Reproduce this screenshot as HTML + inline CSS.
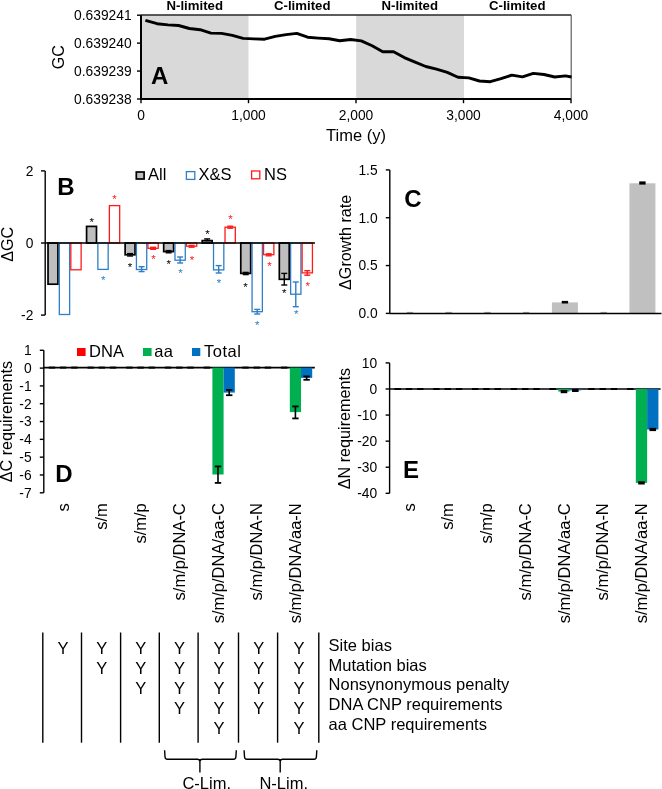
<!DOCTYPE html>
<html><head><meta charset="utf-8"><style>
html,body{margin:0;padding:0;background:#fff;}
svg{display:block;font-family:"Liberation Sans", sans-serif;will-change:transform;}
</style></head><body>
<svg width="662" height="789" viewBox="0 0 662 789">
<rect width="662" height="789" fill="#fff"/>
<rect x="141.0" y="15.2" width="107.5" height="83.8" fill="#D9D9D9" stroke="none" stroke-width="0"/>
<rect x="356.2" y="15.2" width="107.80000000000001" height="83.8" fill="#D9D9D9" stroke="none" stroke-width="0"/>
<line x1="141.0" y1="15.0" x2="571.0" y2="15.0" stroke="#262626" stroke-width="1.4"/>
<line x1="571.2" y1="14.8" x2="571.2" y2="99.0" stroke="#505050" stroke-width="1.1"/>
<polyline fill="none" stroke="#000" stroke-width="2.9" stroke-linejoin="round" points="145.4,20.4 157.1,23.7 167.9,24.9 178.6,25.5 189.4,28.5 200.1,29.7 210.9,33.1 221.6,33.4 232.4,35.4 243.1,38.4 253.9,38.9 264.6,39.2 275.3,36.4 286.1,34.6 296.8,33.4 307.6,37.2 318.3,38.1 329.1,38.8 339.8,40.8 350.6,39.5 361.3,40.9 372.1,45.8 382.8,51.7 393.6,51.7 404.3,57.6 415.1,62.2 425.8,66.5 436.5,69.2 447.3,72.4 458.0,77.2 468.8,77.9 479.5,81.0 490.3,81.7 501.0,78.7 511.8,75.1 522.5,76.9 533.3,73.4 544.0,74.5 554.8,77.0 565.5,75.9 571.5,77.0"/>
<line x1="141.0" y1="15.2" x2="141.0" y2="99.7" stroke="#000" stroke-width="2.0"/>
<line x1="140.0" y1="99.0" x2="571.0" y2="99.0" stroke="#000" stroke-width="2.0"/>
<line x1="137.0" y1="15.2" x2="141.0" y2="15.2" stroke="#000" stroke-width="1.4"/>
<text x="131.6" y="20.0" font-size="13.8" text-anchor="end" font-weight="normal" fill="#000">0.639241</text>
<line x1="137.0" y1="43.13333333333333" x2="141.0" y2="43.13333333333333" stroke="#000" stroke-width="1.4"/>
<text x="131.6" y="47.93333333333333" font-size="13.8" text-anchor="end" font-weight="normal" fill="#000">0.639240</text>
<line x1="137.0" y1="71.06666666666666" x2="141.0" y2="71.06666666666666" stroke="#000" stroke-width="1.4"/>
<text x="131.6" y="75.86666666666666" font-size="13.8" text-anchor="end" font-weight="normal" fill="#000">0.639239</text>
<line x1="137.0" y1="99.0" x2="141.0" y2="99.0" stroke="#000" stroke-width="1.4"/>
<text x="131.6" y="103.8" font-size="13.8" text-anchor="end" font-weight="normal" fill="#000">0.639238</text>
<line x1="141.0" y1="99.0" x2="141.0" y2="103.2" stroke="#000" stroke-width="1.4"/>
<text x="141.0" y="120.3" font-size="13.8" text-anchor="middle" font-weight="normal" fill="#000">0</text>
<line x1="248.5" y1="99.0" x2="248.5" y2="103.2" stroke="#000" stroke-width="1.4"/>
<text x="248.5" y="120.3" font-size="13.8" text-anchor="middle" font-weight="normal" fill="#000">1,000</text>
<line x1="356.0" y1="99.0" x2="356.0" y2="103.2" stroke="#000" stroke-width="1.4"/>
<text x="356.0" y="120.3" font-size="13.8" text-anchor="middle" font-weight="normal" fill="#000">2,000</text>
<line x1="463.5" y1="99.0" x2="463.5" y2="103.2" stroke="#000" stroke-width="1.4"/>
<text x="463.5" y="120.3" font-size="13.8" text-anchor="middle" font-weight="normal" fill="#000">3,000</text>
<line x1="571.0" y1="99.0" x2="571.0" y2="103.2" stroke="#000" stroke-width="1.4"/>
<text x="571.0" y="120.3" font-size="13.8" text-anchor="middle" font-weight="normal" fill="#000">4,000</text>
<text x="356.0" y="141.3" font-size="16.5" text-anchor="middle" font-weight="normal" fill="#000">Time (y)</text>
<text x="64.0" y="57.1" font-size="16.2" text-anchor="middle" font-weight="normal" fill="#000" transform="rotate(-90 64.0 57.1)">GC</text>
<text x="151.0" y="84.0" font-size="24" text-anchor="start" font-weight="bold" fill="#000">A</text>
<text x="194.75" y="10.0" font-size="13.2" text-anchor="middle" font-weight="bold" fill="#000">N-limited</text>
<text x="302.25" y="10.0" font-size="13.2" text-anchor="middle" font-weight="bold" fill="#000">C-limited</text>
<text x="409.75" y="10.0" font-size="13.2" text-anchor="middle" font-weight="bold" fill="#000">N-limited</text>
<text x="517.25" y="10.0" font-size="13.2" text-anchor="middle" font-weight="bold" fill="#000">C-limited</text>
<line x1="45.2" y1="170.9" x2="45.2" y2="315.1" stroke="#000" stroke-width="1.4"/>
<line x1="41.0" y1="170.9" x2="45.2" y2="170.9" stroke="#000" stroke-width="1.4"/>
<text x="33.4" y="176.20000000000002" font-size="13.8" text-anchor="end" font-weight="normal" fill="#000">2</text>
<line x1="41.0" y1="243.0" x2="45.2" y2="243.0" stroke="#000" stroke-width="1.4"/>
<text x="33.4" y="248.3" font-size="13.8" text-anchor="end" font-weight="normal" fill="#000">0</text>
<line x1="41.0" y1="315.1" x2="45.2" y2="315.1" stroke="#000" stroke-width="1.4"/>
<text x="33.4" y="320.40000000000003" font-size="13.8" text-anchor="end" font-weight="normal" fill="#000">-2</text>
<text x="13.4" y="244.3" font-size="16.2" text-anchor="middle" font-weight="normal" fill="#000" transform="rotate(-90 13.4 244.3)">ΔGC</text>
<rect x="48.02499999999999" y="243.0" width="9.9" height="41.19999999999999" fill="#BEBEBE" stroke="#000" stroke-width="1.7"/>
<rect x="59.324999999999996" y="243.0" width="10.3" height="71.5" fill="#fff" stroke="#2F7EC6" stroke-width="1.3"/>
<rect x="70.82499999999999" y="243.0" width="10.3" height="26.80000000000001" fill="#fff" stroke="#FF1A1A" stroke-width="1.3"/>
<rect x="86.575" y="226.4" width="9.9" height="16.599999999999994" fill="#BEBEBE" stroke="#000" stroke-width="1.7"/>
<rect x="97.875" y="243.0" width="10.3" height="26.399999999999977" fill="#fff" stroke="#2F7EC6" stroke-width="1.3"/>
<rect x="109.375" y="205.6" width="10.3" height="37.400000000000006" fill="#fff" stroke="#FF1A1A" stroke-width="1.3"/>
<rect x="125.12499999999999" y="243.0" width="9.9" height="11.800000000000011" fill="#BEBEBE" stroke="#000" stroke-width="1.7"/>
<rect x="136.42499999999998" y="243.0" width="10.3" height="26.5" fill="#fff" stroke="#2F7EC6" stroke-width="1.3"/>
<rect x="147.92499999999998" y="243.0" width="10.3" height="5.300000000000011" fill="#fff" stroke="#FF1A1A" stroke-width="1.3"/>
<rect x="163.675" y="243.0" width="9.9" height="8.599999999999994" fill="#BEBEBE" stroke="#000" stroke-width="1.7"/>
<rect x="174.975" y="243.0" width="10.3" height="17.19999999999999" fill="#fff" stroke="#2F7EC6" stroke-width="1.3"/>
<rect x="186.475" y="243.0" width="10.3" height="3.1999999999999886" fill="#fff" stroke="#FF1A1A" stroke-width="1.3"/>
<rect x="202.22500000000002" y="240.6" width="9.9" height="2.4000000000000057" fill="#BEBEBE" stroke="#000" stroke-width="1.7"/>
<rect x="213.525" y="243.0" width="10.3" height="26.899999999999977" fill="#fff" stroke="#2F7EC6" stroke-width="1.3"/>
<rect x="225.025" y="227.2" width="10.3" height="15.800000000000011" fill="#fff" stroke="#FF1A1A" stroke-width="1.3"/>
<rect x="240.77499999999998" y="243.0" width="9.9" height="30.399999999999977" fill="#BEBEBE" stroke="#000" stroke-width="1.7"/>
<rect x="252.07499999999996" y="243.0" width="10.3" height="68.69999999999999" fill="#fff" stroke="#2F7EC6" stroke-width="1.3"/>
<rect x="263.575" y="243.0" width="10.3" height="11.699999999999989" fill="#fff" stroke="#FF1A1A" stroke-width="1.3"/>
<rect x="279.325" y="243.0" width="9.9" height="36.30000000000001" fill="#BEBEBE" stroke="#000" stroke-width="1.7"/>
<rect x="290.625" y="243.0" width="10.3" height="51.19999999999999" fill="#fff" stroke="#2F7EC6" stroke-width="1.3"/>
<rect x="302.125" y="243.0" width="10.3" height="29.899999999999977" fill="#fff" stroke="#FF1A1A" stroke-width="1.3"/>
<line x1="130.075" y1="253.6" x2="130.075" y2="256.0" stroke="#000" stroke-width="1.4"/>
<line x1="127.07499999999999" y1="253.6" x2="133.075" y2="253.6" stroke="#000" stroke-width="1.4"/>
<line x1="127.07499999999999" y1="256.0" x2="133.075" y2="256.0" stroke="#000" stroke-width="1.4"/>
<line x1="141.575" y1="266.7" x2="141.575" y2="271.6" stroke="#2F7EC6" stroke-width="1.4"/>
<line x1="138.575" y1="266.7" x2="144.575" y2="266.7" stroke="#2F7EC6" stroke-width="1.4"/>
<line x1="138.575" y1="271.6" x2="144.575" y2="271.6" stroke="#2F7EC6" stroke-width="1.4"/>
<line x1="153.075" y1="247.3" x2="153.075" y2="249.3" stroke="#FF1A1A" stroke-width="1.4"/>
<line x1="150.075" y1="247.3" x2="156.075" y2="247.3" stroke="#FF1A1A" stroke-width="1.4"/>
<line x1="150.075" y1="249.3" x2="156.075" y2="249.3" stroke="#FF1A1A" stroke-width="1.4"/>
<line x1="168.625" y1="250.6" x2="168.625" y2="252.8" stroke="#000" stroke-width="1.4"/>
<line x1="165.625" y1="250.6" x2="171.625" y2="250.6" stroke="#000" stroke-width="1.4"/>
<line x1="165.625" y1="252.8" x2="171.625" y2="252.8" stroke="#000" stroke-width="1.4"/>
<line x1="180.125" y1="257.0" x2="180.125" y2="263.0" stroke="#2F7EC6" stroke-width="1.4"/>
<line x1="177.125" y1="257.0" x2="183.125" y2="257.0" stroke="#2F7EC6" stroke-width="1.4"/>
<line x1="177.125" y1="263.0" x2="183.125" y2="263.0" stroke="#2F7EC6" stroke-width="1.4"/>
<line x1="191.625" y1="245.4" x2="191.625" y2="247.2" stroke="#FF1A1A" stroke-width="1.4"/>
<line x1="188.625" y1="245.4" x2="194.625" y2="245.4" stroke="#FF1A1A" stroke-width="1.4"/>
<line x1="188.625" y1="247.2" x2="194.625" y2="247.2" stroke="#FF1A1A" stroke-width="1.4"/>
<line x1="207.175" y1="238.9" x2="207.175" y2="240.6" stroke="#000" stroke-width="1.4"/>
<line x1="204.175" y1="238.9" x2="210.175" y2="238.9" stroke="#000" stroke-width="1.4"/>
<line x1="204.175" y1="240.6" x2="210.175" y2="240.6" stroke="#000" stroke-width="1.4"/>
<line x1="218.675" y1="265.6" x2="218.675" y2="273.0" stroke="#2F7EC6" stroke-width="1.4"/>
<line x1="215.675" y1="265.6" x2="221.675" y2="265.6" stroke="#2F7EC6" stroke-width="1.4"/>
<line x1="215.675" y1="273.0" x2="221.675" y2="273.0" stroke="#2F7EC6" stroke-width="1.4"/>
<line x1="230.175" y1="226.2" x2="230.175" y2="228.2" stroke="#FF1A1A" stroke-width="1.4"/>
<line x1="227.175" y1="226.2" x2="233.175" y2="226.2" stroke="#FF1A1A" stroke-width="1.4"/>
<line x1="227.175" y1="228.2" x2="233.175" y2="228.2" stroke="#FF1A1A" stroke-width="1.4"/>
<line x1="245.72499999999997" y1="272.4" x2="245.72499999999997" y2="274.6" stroke="#000" stroke-width="1.4"/>
<line x1="242.72499999999997" y1="272.4" x2="248.72499999999997" y2="272.4" stroke="#000" stroke-width="1.4"/>
<line x1="242.72499999999997" y1="274.6" x2="248.72499999999997" y2="274.6" stroke="#000" stroke-width="1.4"/>
<line x1="257.22499999999997" y1="309.4" x2="257.22499999999997" y2="314.0" stroke="#2F7EC6" stroke-width="1.4"/>
<line x1="254.22499999999997" y1="309.4" x2="260.22499999999997" y2="309.4" stroke="#2F7EC6" stroke-width="1.4"/>
<line x1="254.22499999999997" y1="314.0" x2="260.22499999999997" y2="314.0" stroke="#2F7EC6" stroke-width="1.4"/>
<line x1="268.72499999999997" y1="253.8" x2="268.72499999999997" y2="255.8" stroke="#FF1A1A" stroke-width="1.4"/>
<line x1="265.72499999999997" y1="253.8" x2="271.72499999999997" y2="253.8" stroke="#FF1A1A" stroke-width="1.4"/>
<line x1="265.72499999999997" y1="255.8" x2="271.72499999999997" y2="255.8" stroke="#FF1A1A" stroke-width="1.4"/>
<line x1="284.275" y1="273.4" x2="284.275" y2="285.0" stroke="#000" stroke-width="1.4"/>
<line x1="281.275" y1="273.4" x2="287.275" y2="273.4" stroke="#000" stroke-width="1.4"/>
<line x1="281.275" y1="285.0" x2="287.275" y2="285.0" stroke="#000" stroke-width="1.4"/>
<line x1="295.775" y1="282.0" x2="295.775" y2="306.7" stroke="#2F7EC6" stroke-width="1.4"/>
<line x1="292.775" y1="282.0" x2="298.775" y2="282.0" stroke="#2F7EC6" stroke-width="1.4"/>
<line x1="292.775" y1="306.7" x2="298.775" y2="306.7" stroke="#2F7EC6" stroke-width="1.4"/>
<line x1="307.275" y1="270.7" x2="307.275" y2="275.2" stroke="#FF1A1A" stroke-width="1.4"/>
<line x1="304.275" y1="270.7" x2="310.275" y2="270.7" stroke="#FF1A1A" stroke-width="1.4"/>
<line x1="304.275" y1="275.2" x2="310.275" y2="275.2" stroke="#FF1A1A" stroke-width="1.4"/>
<line x1="45.2" y1="243.0" x2="315.0" y2="243.0" stroke="#000" stroke-width="1.5"/>
<text x="91.7" y="226.29999999999998" font-size="11.5" text-anchor="middle" font-weight="normal" fill="#000">*</text>
<text x="103.2" y="284.09999999999997" font-size="11.5" text-anchor="middle" font-weight="normal" fill="#2F7EC6">*</text>
<text x="114.4" y="203.1" font-size="11.5" text-anchor="middle" font-weight="normal" fill="#FF1A1A">*</text>
<text x="129.89999999999998" y="270.8" font-size="11.5" text-anchor="middle" font-weight="normal" fill="#000">*</text>
<text x="153.6" y="262.7" font-size="11.5" text-anchor="middle" font-weight="normal" fill="#FF1A1A">*</text>
<text x="168.7" y="268.0" font-size="11.5" text-anchor="middle" font-weight="normal" fill="#000">*</text>
<text x="180.5" y="277.3" font-size="11.5" text-anchor="middle" font-weight="normal" fill="#2F7EC6">*</text>
<text x="192.0" y="263.7" font-size="11.5" text-anchor="middle" font-weight="normal" fill="#FF1A1A">*</text>
<text x="207.5" y="238.29999999999998" font-size="11.5" text-anchor="middle" font-weight="normal" fill="#000">*</text>
<text x="218.89999999999998" y="286.8" font-size="11.5" text-anchor="middle" font-weight="normal" fill="#2F7EC6">*</text>
<text x="230.5" y="222.79999999999998" font-size="11.5" text-anchor="middle" font-weight="normal" fill="#FF1A1A">*</text>
<text x="245.5" y="290.7" font-size="11.5" text-anchor="middle" font-weight="normal" fill="#000">*</text>
<text x="257.3" y="328.8" font-size="11.5" text-anchor="middle" font-weight="normal" fill="#2F7EC6">*</text>
<text x="269.4" y="269.5" font-size="11.5" text-anchor="middle" font-weight="normal" fill="#FF1A1A">*</text>
<text x="284.2" y="296.9" font-size="11.5" text-anchor="middle" font-weight="normal" fill="#000">*</text>
<text x="296.3" y="318.09999999999997" font-size="11.5" text-anchor="middle" font-weight="normal" fill="#2F7EC6">*</text>
<text x="307.8" y="290.0" font-size="11.5" text-anchor="middle" font-weight="normal" fill="#FF1A1A">*</text>
<text x="57.2" y="194.8" font-size="24" text-anchor="start" font-weight="bold" fill="#000">B</text>
<rect x="136.3" y="172.0" width="7.8" height="7.0" fill="#BEBEBE" stroke="#000" stroke-width="1.7"/>
<text x="148.0" y="180.2" font-size="16.5" text-anchor="start" font-weight="normal" fill="#000">All</text>
<rect x="186.4" y="171.6" width="8.4" height="7.8" fill="#fff" stroke="#2F7EC6" stroke-width="1.3"/>
<text x="198.6" y="180.2" font-size="16.5" text-anchor="start" font-weight="normal" fill="#000">X&amp;S</text>
<rect x="251.6" y="171.0" width="8.2" height="7.8" fill="#fff" stroke="#FF1A1A" stroke-width="1.3"/>
<text x="264.0" y="180.2" font-size="16.5" text-anchor="start" font-weight="normal" fill="#000">NS</text>
<line x1="389.8" y1="169.9" x2="389.8" y2="313.4" stroke="#000" stroke-width="1.4"/>
<line x1="385.8" y1="169.9" x2="389.8" y2="169.9" stroke="#000" stroke-width="1.4"/>
<text x="377.6" y="174.70000000000002" font-size="13.8" text-anchor="end" font-weight="normal" fill="#000">1.5</text>
<line x1="385.8" y1="217.73000000000002" x2="389.8" y2="217.73000000000002" stroke="#000" stroke-width="1.4"/>
<text x="377.6" y="222.53000000000003" font-size="13.8" text-anchor="end" font-weight="normal" fill="#000">1.0</text>
<line x1="385.8" y1="265.56" x2="389.8" y2="265.56" stroke="#000" stroke-width="1.4"/>
<text x="377.6" y="270.36" font-size="13.8" text-anchor="end" font-weight="normal" fill="#000">0.5</text>
<line x1="385.8" y1="313.39" x2="389.8" y2="313.39" stroke="#000" stroke-width="1.4"/>
<text x="377.6" y="318.19" font-size="13.8" text-anchor="end" font-weight="normal" fill="#000">0.0</text>
<text x="351.3" y="242.3" font-size="16.2" text-anchor="middle" font-weight="normal" fill="#000" transform="rotate(-90 351.3 242.3)">ΔGrowth rate</text>
<rect x="551.925" y="302.4" width="26" height="11.0" fill="#C0C0C0" stroke="none" stroke-width="0"/>
<rect x="629.425" y="183.3" width="26" height="130.09999999999997" fill="#C0C0C0" stroke="none" stroke-width="0"/>
<rect x="406.725" y="311.9" width="6.4" height="1.0" fill="#999" stroke="none" stroke-width="0"/>
<rect x="445.475" y="311.9" width="6.4" height="1.0" fill="#999" stroke="none" stroke-width="0"/>
<rect x="484.225" y="311.9" width="6.4" height="1.0" fill="#999" stroke="none" stroke-width="0"/>
<rect x="522.9749999999999" y="311.9" width="6.4" height="1.0" fill="#999" stroke="none" stroke-width="0"/>
<rect x="561.7249999999999" y="300.9" width="6.4" height="2.6" fill="#000" stroke="none" stroke-width="0"/>
<rect x="600.4749999999999" y="311.9" width="6.4" height="1.0" fill="#999" stroke="none" stroke-width="0"/>
<rect x="639.2249999999999" y="181.4" width="6.4" height="3.2" fill="#000" stroke="none" stroke-width="0"/>
<line x1="389.8" y1="313.4" x2="661.5" y2="313.4" stroke="#000" stroke-width="1.5"/>
<text x="404.2" y="207.3" font-size="24" text-anchor="start" font-weight="bold" fill="#000">C</text>
<line x1="43.8" y1="350.3" x2="43.8" y2="492.8" stroke="#000" stroke-width="1.4"/>
<line x1="39.8" y1="350.3" x2="43.8" y2="350.3" stroke="#000" stroke-width="1.4"/>
<text x="31.6" y="355.1" font-size="13.8" text-anchor="end" font-weight="normal" fill="#000">1</text>
<line x1="39.8" y1="368.11" x2="43.8" y2="368.11" stroke="#000" stroke-width="1.4"/>
<text x="31.6" y="372.91" font-size="13.8" text-anchor="end" font-weight="normal" fill="#000">0</text>
<line x1="39.8" y1="385.92" x2="43.8" y2="385.92" stroke="#000" stroke-width="1.4"/>
<text x="31.6" y="390.72" font-size="13.8" text-anchor="end" font-weight="normal" fill="#000">-1</text>
<line x1="39.8" y1="403.73" x2="43.8" y2="403.73" stroke="#000" stroke-width="1.4"/>
<text x="31.6" y="408.53000000000003" font-size="13.8" text-anchor="end" font-weight="normal" fill="#000">-2</text>
<line x1="39.8" y1="421.54" x2="43.8" y2="421.54" stroke="#000" stroke-width="1.4"/>
<text x="31.6" y="426.34000000000003" font-size="13.8" text-anchor="end" font-weight="normal" fill="#000">-3</text>
<line x1="39.8" y1="439.35" x2="43.8" y2="439.35" stroke="#000" stroke-width="1.4"/>
<text x="31.6" y="444.15000000000003" font-size="13.8" text-anchor="end" font-weight="normal" fill="#000">-4</text>
<line x1="39.8" y1="457.15999999999997" x2="43.8" y2="457.15999999999997" stroke="#000" stroke-width="1.4"/>
<text x="31.6" y="461.96" font-size="13.8" text-anchor="end" font-weight="normal" fill="#000">-5</text>
<line x1="39.8" y1="474.97" x2="43.8" y2="474.97" stroke="#000" stroke-width="1.4"/>
<text x="31.6" y="479.77000000000004" font-size="13.8" text-anchor="end" font-weight="normal" fill="#000">-6</text>
<line x1="39.8" y1="492.78" x2="43.8" y2="492.78" stroke="#000" stroke-width="1.4"/>
<text x="31.6" y="497.58" font-size="13.8" text-anchor="end" font-weight="normal" fill="#000">-7</text>
<text x="12.1" y="421.6" font-size="16.2" text-anchor="middle" font-weight="normal" fill="#000" transform="rotate(-90 12.1 421.6)">ΔC requirements</text>
<line x1="43.8" y1="367.6" x2="314.8" y2="367.6" stroke="#000" stroke-width="1.6"/>
<rect x="48.754999999999995" y="366.6" width="6.4" height="2.0" fill="#000" stroke="none" stroke-width="0"/>
<rect x="59.955" y="366.6" width="6.4" height="2.0" fill="#000" stroke="none" stroke-width="0"/>
<rect x="71.155" y="366.6" width="6.4" height="2.0" fill="#000" stroke="none" stroke-width="0"/>
<rect x="87.46499999999999" y="366.6" width="6.4" height="2.0" fill="#000" stroke="none" stroke-width="0"/>
<rect x="98.66499999999999" y="366.6" width="6.4" height="2.0" fill="#000" stroke="none" stroke-width="0"/>
<rect x="109.865" y="366.6" width="6.4" height="2.0" fill="#000" stroke="none" stroke-width="0"/>
<rect x="126.175" y="366.6" width="6.4" height="2.0" fill="#000" stroke="none" stroke-width="0"/>
<rect x="137.375" y="366.6" width="6.4" height="2.0" fill="#000" stroke="none" stroke-width="0"/>
<rect x="148.575" y="366.6" width="6.4" height="2.0" fill="#000" stroke="none" stroke-width="0"/>
<rect x="164.88500000000005" y="366.6" width="6.4" height="2.0" fill="#000" stroke="none" stroke-width="0"/>
<rect x="176.08500000000004" y="366.6" width="6.4" height="2.0" fill="#000" stroke="none" stroke-width="0"/>
<rect x="187.28500000000003" y="366.6" width="6.4" height="2.0" fill="#000" stroke="none" stroke-width="0"/>
<rect x="203.59500000000003" y="366.6" width="6.4" height="2.0" fill="#000" stroke="none" stroke-width="0"/>
<rect x="212.395" y="367.6" width="11.2" height="106.89999999999998" fill="#00B050" stroke="none" stroke-width="0"/>
<line x1="217.995" y1="466.4" x2="217.995" y2="482.9" stroke="#000" stroke-width="1.6"/>
<line x1="214.79500000000002" y1="466.4" x2="221.195" y2="466.4" stroke="#000" stroke-width="1.8"/>
<line x1="214.79500000000002" y1="482.9" x2="221.195" y2="482.9" stroke="#000" stroke-width="1.8"/>
<rect x="223.595" y="367.6" width="11.2" height="25.0" fill="#0070C0" stroke="none" stroke-width="0"/>
<line x1="229.195" y1="389.9" x2="229.195" y2="395.2" stroke="#000" stroke-width="1.6"/>
<line x1="225.995" y1="389.9" x2="232.39499999999998" y2="389.9" stroke="#000" stroke-width="1.8"/>
<line x1="225.995" y1="395.2" x2="232.39499999999998" y2="395.2" stroke="#000" stroke-width="1.8"/>
<rect x="242.305" y="366.6" width="6.4" height="2.0" fill="#000" stroke="none" stroke-width="0"/>
<rect x="253.505" y="366.6" width="6.4" height="2.0" fill="#000" stroke="none" stroke-width="0"/>
<rect x="264.705" y="366.6" width="6.4" height="2.0" fill="#000" stroke="none" stroke-width="0"/>
<rect x="281.01500000000004" y="366.6" width="6.4" height="2.0" fill="#000" stroke="none" stroke-width="0"/>
<rect x="289.815" y="367.6" width="11.2" height="44.5" fill="#00B050" stroke="none" stroke-width="0"/>
<line x1="295.415" y1="406.4" x2="295.415" y2="418.4" stroke="#000" stroke-width="1.6"/>
<line x1="292.21500000000003" y1="406.4" x2="298.615" y2="406.4" stroke="#000" stroke-width="1.8"/>
<line x1="292.21500000000003" y1="418.4" x2="298.615" y2="418.4" stroke="#000" stroke-width="1.8"/>
<rect x="301.015" y="367.6" width="11.2" height="10.299999999999955" fill="#0070C0" stroke="none" stroke-width="0"/>
<line x1="306.615" y1="376.4" x2="306.615" y2="379.8" stroke="#000" stroke-width="1.6"/>
<line x1="303.415" y1="376.4" x2="309.815" y2="376.4" stroke="#000" stroke-width="1.8"/>
<line x1="303.415" y1="379.8" x2="309.815" y2="379.8" stroke="#000" stroke-width="1.8"/>
<rect x="77.0" y="348.0" width="8.6" height="8.0" fill="#FF0000" stroke="none" stroke-width="0"/>
<text x="89.1" y="357.0" font-size="16.5" text-anchor="start" font-weight="normal" fill="#000">DNA</text>
<rect x="143.0" y="348.0" width="8.6" height="8.0" fill="#00B050" stroke="none" stroke-width="0"/>
<text x="154.3" y="357.0" font-size="16.5" text-anchor="start" font-weight="normal" fill="#000" letter-spacing="0.4">aa</text>
<rect x="192.0" y="348.0" width="8.3" height="8.0" fill="#0070C0" stroke="none" stroke-width="0"/>
<text x="204.0" y="357.0" font-size="16.5" text-anchor="start" font-weight="normal" fill="#000" letter-spacing="0.5">Total</text>
<text x="55.3" y="481.8" font-size="24" text-anchor="start" font-weight="bold" fill="#000">D</text>
<line x1="389.6" y1="362.9" x2="389.6" y2="493.3" stroke="#000" stroke-width="1.4"/>
<line x1="385.6" y1="362.9" x2="389.6" y2="362.9" stroke="#000" stroke-width="1.4"/>
<text x="377.1" y="367.7" font-size="13.8" text-anchor="end" font-weight="normal" fill="#000">10</text>
<line x1="385.6" y1="388.97999999999996" x2="389.6" y2="388.97999999999996" stroke="#000" stroke-width="1.4"/>
<text x="377.1" y="393.78" font-size="13.8" text-anchor="end" font-weight="normal" fill="#000">0</text>
<line x1="385.6" y1="415.05999999999995" x2="389.6" y2="415.05999999999995" stroke="#000" stroke-width="1.4"/>
<text x="377.1" y="419.85999999999996" font-size="13.8" text-anchor="end" font-weight="normal" fill="#000">-10</text>
<line x1="385.6" y1="441.14" x2="389.6" y2="441.14" stroke="#000" stroke-width="1.4"/>
<text x="377.1" y="445.94" font-size="13.8" text-anchor="end" font-weight="normal" fill="#000">-20</text>
<line x1="385.6" y1="467.21999999999997" x2="389.6" y2="467.21999999999997" stroke="#000" stroke-width="1.4"/>
<text x="377.1" y="472.02" font-size="13.8" text-anchor="end" font-weight="normal" fill="#000">-30</text>
<line x1="385.6" y1="493.29999999999995" x2="389.6" y2="493.29999999999995" stroke="#000" stroke-width="1.4"/>
<text x="377.1" y="498.09999999999997" font-size="13.8" text-anchor="end" font-weight="normal" fill="#000">-40</text>
<text x="350.1" y="428.6" font-size="16.2" text-anchor="middle" font-weight="normal" fill="#000" transform="rotate(-90 350.1 428.6)">ΔN requirements</text>
<line x1="389.6" y1="389.0" x2="660.6" y2="389.0" stroke="#000" stroke-width="1.6"/>
<rect x="394.475" y="388.0" width="6.4" height="2.0" fill="#000" stroke="none" stroke-width="0"/>
<rect x="405.77500000000003" y="388.0" width="6.4" height="2.0" fill="#000" stroke="none" stroke-width="0"/>
<rect x="417.07500000000005" y="388.0" width="6.4" height="2.0" fill="#000" stroke="none" stroke-width="0"/>
<rect x="433.225" y="388.0" width="6.4" height="2.0" fill="#000" stroke="none" stroke-width="0"/>
<rect x="444.52500000000003" y="388.0" width="6.4" height="2.0" fill="#000" stroke="none" stroke-width="0"/>
<rect x="455.82500000000005" y="388.0" width="6.4" height="2.0" fill="#000" stroke="none" stroke-width="0"/>
<rect x="471.975" y="388.0" width="6.4" height="2.0" fill="#000" stroke="none" stroke-width="0"/>
<rect x="483.27500000000003" y="388.0" width="6.4" height="2.0" fill="#000" stroke="none" stroke-width="0"/>
<rect x="494.57500000000005" y="388.0" width="6.4" height="2.0" fill="#000" stroke="none" stroke-width="0"/>
<rect x="510.7250000000001" y="388.0" width="6.4" height="2.0" fill="#000" stroke="none" stroke-width="0"/>
<rect x="522.025" y="388.0" width="6.4" height="2.0" fill="#000" stroke="none" stroke-width="0"/>
<rect x="533.3249999999999" y="388.0" width="6.4" height="2.0" fill="#000" stroke="none" stroke-width="0"/>
<rect x="549.475" y="388.0" width="6.4" height="2.0" fill="#000" stroke="none" stroke-width="0"/>
<rect x="558.325" y="389.0" width="11.3" height="2.6000000000000227" fill="#00B050" stroke="none" stroke-width="0"/>
<rect x="560.6750000000001" y="390.0" width="6.6" height="3.2" fill="#000" stroke="none" stroke-width="0"/>
<rect x="569.625" y="389.0" width="11.3" height="1.3999999999999773" fill="#0070C0" stroke="none" stroke-width="0"/>
<rect x="571.975" y="388.79999999999995" width="6.6" height="3.2" fill="#000" stroke="none" stroke-width="0"/>
<rect x="588.225" y="388.0" width="6.4" height="2.0" fill="#000" stroke="none" stroke-width="0"/>
<rect x="599.525" y="388.0" width="6.4" height="2.0" fill="#000" stroke="none" stroke-width="0"/>
<rect x="610.8249999999999" y="388.0" width="6.4" height="2.0" fill="#000" stroke="none" stroke-width="0"/>
<rect x="626.975" y="388.0" width="6.4" height="2.0" fill="#000" stroke="none" stroke-width="0"/>
<rect x="635.825" y="389.0" width="11.3" height="93.89999999999998" fill="#00B050" stroke="none" stroke-width="0"/>
<rect x="638.1750000000001" y="481.29999999999995" width="6.6" height="3.2" fill="#000" stroke="none" stroke-width="0"/>
<rect x="647.125" y="389.0" width="11.3" height="40.5" fill="#0070C0" stroke="none" stroke-width="0"/>
<rect x="649.475" y="427.9" width="6.6" height="3.2" fill="#000" stroke="none" stroke-width="0"/>
<text x="403.0" y="477.8" font-size="24" text-anchor="start" font-weight="bold" fill="#000">E</text>
<text x="68.755" y="503.2" font-size="16.5" text-anchor="end" font-weight="normal" fill="#000" transform="rotate(-90 68.755 503.2)">s</text>
<text x="414.57500000000005" y="503.2" font-size="16.5" text-anchor="end" font-weight="normal" fill="#000" transform="rotate(-90 414.57500000000005 503.2)">s</text>
<text x="107.46499999999999" y="503.2" font-size="16.5" text-anchor="end" font-weight="normal" fill="#000" transform="rotate(-90 107.46499999999999 503.2)">s/m</text>
<text x="453.32500000000005" y="503.2" font-size="16.5" text-anchor="end" font-weight="normal" fill="#000" transform="rotate(-90 453.32500000000005 503.2)">s/m</text>
<text x="146.17499999999998" y="503.2" font-size="16.5" text-anchor="end" font-weight="normal" fill="#000" transform="rotate(-90 146.17499999999998 503.2)">s/m/p</text>
<text x="492.07500000000005" y="503.2" font-size="16.5" text-anchor="end" font-weight="normal" fill="#000" transform="rotate(-90 492.07500000000005 503.2)">s/m/p</text>
<text x="184.88500000000002" y="503.2" font-size="16.5" text-anchor="end" font-weight="normal" fill="#000" transform="rotate(-90 184.88500000000002 503.2)">s/m/p/DNA-C</text>
<text x="530.825" y="503.2" font-size="16.5" text-anchor="end" font-weight="normal" fill="#000" transform="rotate(-90 530.825 503.2)">s/m/p/DNA-C</text>
<text x="223.595" y="503.2" font-size="16.5" text-anchor="end" font-weight="normal" fill="#000" transform="rotate(-90 223.595 503.2)">s/m/p/DNA/aa-C</text>
<text x="569.575" y="503.2" font-size="16.5" text-anchor="end" font-weight="normal" fill="#000" transform="rotate(-90 569.575 503.2)">s/m/p/DNA/aa-C</text>
<text x="262.305" y="503.2" font-size="16.5" text-anchor="end" font-weight="normal" fill="#000" transform="rotate(-90 262.305 503.2)">s/m/p/DNA-N</text>
<text x="608.325" y="503.2" font-size="16.5" text-anchor="end" font-weight="normal" fill="#000" transform="rotate(-90 608.325 503.2)">s/m/p/DNA-N</text>
<text x="301.01500000000004" y="503.2" font-size="16.5" text-anchor="end" font-weight="normal" fill="#000" transform="rotate(-90 301.01500000000004 503.2)">s/m/p/DNA/aa-N</text>
<text x="647.075" y="503.2" font-size="16.5" text-anchor="end" font-weight="normal" fill="#000" transform="rotate(-90 647.075 503.2)">s/m/p/DNA/aa-N</text>
<line x1="42.8" y1="632.5" x2="42.8" y2="742.7" stroke="#000" stroke-width="1.4"/>
<line x1="81.5" y1="632.5" x2="81.5" y2="742.7" stroke="#000" stroke-width="1.4"/>
<line x1="120.6" y1="632.5" x2="120.6" y2="742.7" stroke="#000" stroke-width="1.4"/>
<line x1="159.3" y1="632.5" x2="159.3" y2="742.7" stroke="#000" stroke-width="1.4"/>
<line x1="198.1" y1="632.5" x2="198.1" y2="742.7" stroke="#000" stroke-width="1.4"/>
<line x1="238.5" y1="632.5" x2="238.5" y2="742.7" stroke="#000" stroke-width="1.4"/>
<line x1="277.6" y1="632.5" x2="277.6" y2="742.7" stroke="#000" stroke-width="1.4"/>
<line x1="318.8" y1="632.5" x2="318.8" y2="742.7" stroke="#000" stroke-width="1.4"/>
<text x="62.949999999999996" y="653.9" font-size="16.5" text-anchor="middle" font-weight="normal" fill="#000">Y</text>
<text x="101.85" y="653.9" font-size="16.5" text-anchor="middle" font-weight="normal" fill="#000">Y</text>
<text x="101.85" y="673.8299999999999" font-size="16.5" text-anchor="middle" font-weight="normal" fill="#000">Y</text>
<text x="140.75" y="653.9" font-size="16.5" text-anchor="middle" font-weight="normal" fill="#000">Y</text>
<text x="140.75" y="673.8299999999999" font-size="16.5" text-anchor="middle" font-weight="normal" fill="#000">Y</text>
<text x="140.75" y="693.76" font-size="16.5" text-anchor="middle" font-weight="normal" fill="#000">Y</text>
<text x="179.5" y="653.9" font-size="16.5" text-anchor="middle" font-weight="normal" fill="#000">Y</text>
<text x="179.5" y="673.8299999999999" font-size="16.5" text-anchor="middle" font-weight="normal" fill="#000">Y</text>
<text x="179.5" y="693.76" font-size="16.5" text-anchor="middle" font-weight="normal" fill="#000">Y</text>
<text x="179.5" y="713.6899999999999" font-size="16.5" text-anchor="middle" font-weight="normal" fill="#000">Y</text>
<text x="219.10000000000002" y="653.9" font-size="16.5" text-anchor="middle" font-weight="normal" fill="#000">Y</text>
<text x="219.10000000000002" y="673.8299999999999" font-size="16.5" text-anchor="middle" font-weight="normal" fill="#000">Y</text>
<text x="219.10000000000002" y="693.76" font-size="16.5" text-anchor="middle" font-weight="normal" fill="#000">Y</text>
<text x="219.10000000000002" y="713.6899999999999" font-size="16.5" text-anchor="middle" font-weight="normal" fill="#000">Y</text>
<text x="219.10000000000002" y="733.62" font-size="16.5" text-anchor="middle" font-weight="normal" fill="#000">Y</text>
<text x="258.85" y="653.9" font-size="16.5" text-anchor="middle" font-weight="normal" fill="#000">Y</text>
<text x="258.85" y="673.8299999999999" font-size="16.5" text-anchor="middle" font-weight="normal" fill="#000">Y</text>
<text x="258.85" y="693.76" font-size="16.5" text-anchor="middle" font-weight="normal" fill="#000">Y</text>
<text x="258.85" y="713.6899999999999" font-size="16.5" text-anchor="middle" font-weight="normal" fill="#000">Y</text>
<text x="299.00000000000006" y="653.9" font-size="16.5" text-anchor="middle" font-weight="normal" fill="#000">Y</text>
<text x="299.00000000000006" y="673.8299999999999" font-size="16.5" text-anchor="middle" font-weight="normal" fill="#000">Y</text>
<text x="299.00000000000006" y="693.76" font-size="16.5" text-anchor="middle" font-weight="normal" fill="#000">Y</text>
<text x="299.00000000000006" y="713.6899999999999" font-size="16.5" text-anchor="middle" font-weight="normal" fill="#000">Y</text>
<text x="299.00000000000006" y="733.62" font-size="16.5" text-anchor="middle" font-weight="normal" fill="#000">Y</text>
<text x="328.6" y="650.6" font-size="16.5" text-anchor="start" font-weight="normal" fill="#000">Site bias</text>
<text x="328.6" y="670.53" font-size="16.5" text-anchor="start" font-weight="normal" fill="#000">Mutation bias</text>
<text x="328.6" y="690.46" font-size="16.5" text-anchor="start" font-weight="normal" fill="#000">Nonsynonymous penalty</text>
<text x="328.6" y="710.39" font-size="16.5" text-anchor="start" font-weight="normal" fill="#000">DNA CNP requirements</text>
<text x="328.6" y="730.32" font-size="16.5" text-anchor="start" font-weight="normal" fill="#000">aa CNP requirements</text>
<path d="M164.6,750.2 L165.0,756.7 Q165.2,759.2 167.2,759.2 L197.5,759.2 Q199.9,759.2 199.9,761.6 L199.9,772.6 M199.9,761.6 Q199.9,759.2 202.3,759.2 L233.70000000000002,759.2 Q235.70000000000002,759.2 235.9,756.7 L236.3,750.2" fill="none" stroke="#000" stroke-width="1.4"/>
<path d="M244.1,750.2 L244.5,756.7 Q244.7,759.2 246.7,759.2 L277.8,759.2 Q280.2,759.2 280.2,761.6 L280.2,772.6 M280.2,761.6 Q280.2,759.2 282.59999999999997,759.2 L314.2,759.2 Q316.2,759.2 316.40000000000003,756.7 L316.8,750.2" fill="none" stroke="#000" stroke-width="1.4"/>
<text x="206.7" y="788.6" font-size="16.5" text-anchor="middle" font-weight="normal" fill="#000">C-Lim.</text>
<text x="283.7" y="788.6" font-size="16.5" text-anchor="middle" font-weight="normal" fill="#000">N-Lim.</text>
</svg>
</body></html>
